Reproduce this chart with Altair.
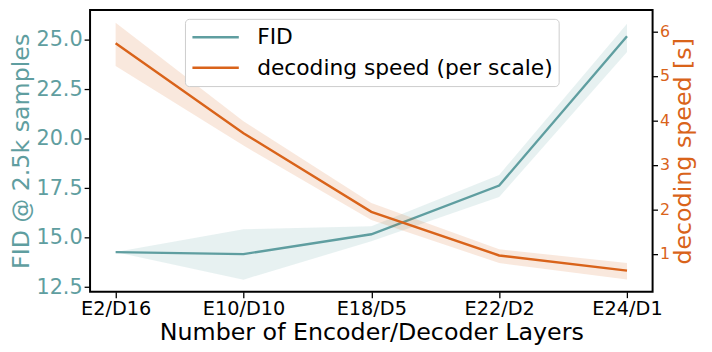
import altair as alt
import pandas as pd

categories = ["E2/D16", "E10/D10", "E18/D5", "E22/D2", "E24/D1"]
fid = [14.27, 14.17, 15.17, 17.63, 25.17]
fid_lo = [14.27, 12.88, 14.82, 17.05, 24.38]
fid_hi = [14.27, 15.42, 15.58, 18.17, 25.80]
speed = [5.73, 3.71, 1.94, 0.96, 0.62]
speed_lo = [5.22, 3.43, 1.76, 0.79, 0.42]
speed_hi = [6.19, 3.98, 2.14, 1.10, 0.79]

series_names = ["FID", "decoding speed (per scale)"]
fid_ticks = [12.5, 15.0, 17.5, 20.0, 22.5, 25.0]
speed_ticks = [1, 2, 3, 4, 5, 6]

TEAL = "#5f9ea0"
ORANGE = "#d9631a"
FONT = "DejaVu Sans"

df = pd.DataFrame({
    "cat": categories,
    "fid": fid, "fid_lo": fid_lo, "fid_hi": fid_hi,
    "speed": speed, "speed_lo": speed_lo, "speed_hi": speed_hi,
    "s_fid": [series_names[0]] * len(categories),
    "s_speed": [series_names[1]] * len(categories),
})

x_enc = alt.X(
    "cat:N", sort=categories,
    scale=alt.Scale(type="point", padding=0.2),
    axis=alt.Axis(
        title="Number of Encoder/Decoder Layers", labelAngle=0,
        labelFontSize=19.5, labelColor="black", titleFontSize=24,
        titleFontWeight="normal", titleColor="black", tickSize=6,
        tickWidth=1.3, tickColor="black", labelPadding=2, titlePadding=3,
        domain=False, grid=False,
    ),
)

color_scale = alt.Scale(domain=series_names, range=[TEAL, ORANGE])
legend = alt.Legend(
    title=None, orient="none", legendX=96, legendY=9,
    fillColor="white", strokeColor="#cccccc", cornerRadius=4, padding=6,
    labelFontSize=22, labelColor="black", labelFont=FONT, labelLimit=1000,
    symbolType="stroke", symbolSize=2200, symbolStrokeWidth=2.5,
    clipHeight=25, rowPadding=6, labelOffset=17, symbolOffset=0,
)

fid_scale = alt.Scale(domain=[12.27, 26.5], nice=False, zero=False)
fid_axis = alt.Axis(
    title="FID @ 2.5k samples", orient="left", values=fid_ticks, format=".1f",
    labelFontSize=21, labelColor=TEAL, titleColor=TEAL, titleFontSize=24,
    titleFontWeight="normal", tickSize=6, tickWidth=1.3, tickColor="black",
    labelPadding=2, titlePadding=2, domain=False, grid=False,
)
speed_scale = alt.Scale(domain=[0.145, 6.48], nice=False, zero=False)
speed_axis = alt.Axis(
    title="decoding speed [s]", orient="right", values=speed_ticks, format="d",
    labelFontSize=16, labelColor=ORANGE, titleColor=ORANGE, titleFontSize=24,
    titleFontWeight="normal", titleAngle=270, titleBaseline="top",
    tickSize=5, tickWidth=1.3, tickColor="black",
    labelPadding=2, titlePadding=2, domain=False, grid=False,
)

base = alt.Chart(df).encode(x=x_enc)

fid_band = base.mark_area(color=TEAL, opacity=0.15).encode(
    y=alt.Y("fid_lo:Q", scale=fid_scale, axis=fid_axis),
    y2="fid_hi:Q",
)
fid_line = base.mark_line(strokeWidth=2.4).encode(
    y=alt.Y("fid:Q", scale=fid_scale, axis=fid_axis),
    color=alt.Color("s_fid:N", scale=color_scale, legend=legend),
)
speed_band = base.mark_area(color=ORANGE, opacity=0.15).encode(
    y=alt.Y("speed_lo:Q", scale=speed_scale, axis=speed_axis),
    y2="speed_hi:Q",
)
speed_line = base.mark_line(strokeWidth=2.4).encode(
    y=alt.Y("speed:Q", scale=speed_scale, axis=speed_axis),
    color=alt.Color("s_speed:N", scale=color_scale, legend=legend),
)

left = alt.layer(fid_band, fid_line)
right = alt.layer(speed_band, speed_line)

chart = alt.layer(left, right).resolve_scale(y="independent").properties(
    width=569, height=285,
    autosize=alt.AutoSizeParams(type="none"),
    padding={"left": 83, "top": 0, "right": 52, "bottom": 59},
).configure(font=FONT).configure_view(
    stroke="black", strokeWidth=2,
)

chart.save("out.html", embed_options={"renderer": "svg", "actions": False})
